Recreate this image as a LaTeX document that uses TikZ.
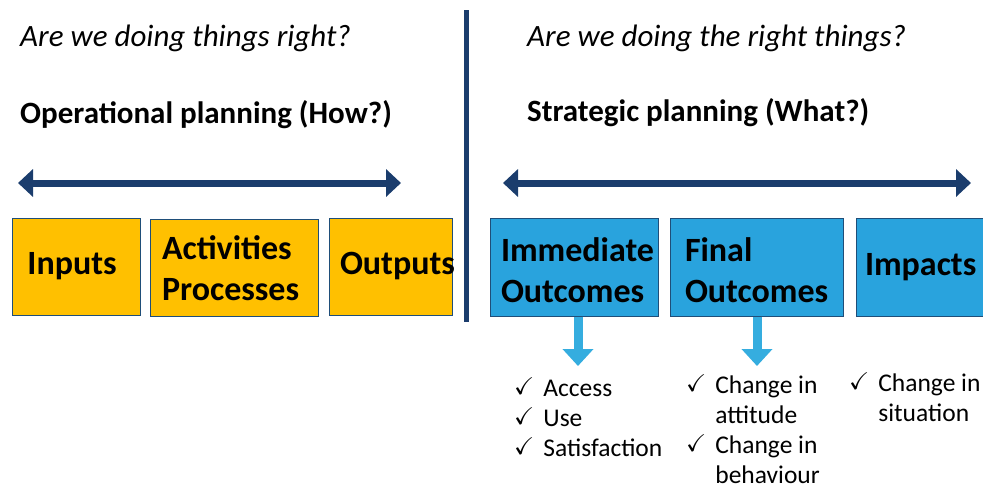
\documentclass[tikz,border=0pt]{standalone}
\usepackage{amssymb}
\usepackage{fontspec}
\setmainfont{Carlito}
\usetikzlibrary{arrows.meta}
\definecolor{navy}{HTML}{1B3D6D}
\definecolor{amber}{HTML}{FFC000}
\definecolor{skyb}{HTML}{29A3DD}
\definecolor{lightarr}{HTML}{35ADDF}
\definecolor{boxline}{HTML}{1F4E79}
\tikzset{
  obox/.style={draw=boxline, fill=amber, line width=1pt, inner sep=0pt, minimum height=97pt,
    align=left, font=\fontsize{34}{41}\selectfont\bfseries},
  bbox/.style={obox, fill=skyb, minimum height=98pt},
  span/.style={{Triangle[width=27pt,length=15pt]}-{Triangle[width=27pt,length=15pt]}, line width=7pt, navy},
  downarr/.style={-{Triangle[width=30pt,length=17pt]}, line width=9pt, lightarr},
  ask/.style={anchor=west, inner sep=0pt, font=\fontsize{31}{36}\selectfont\itshape},
  head/.style={anchor=west, inner sep=0pt, font=\fontsize{31}{36}\selectfont\bfseries},
  ticks/.style={anchor=north west, inner sep=0pt, font=\fontsize{25.5}{30}\selectfont}
}
\newcommand{\tk}{\raisebox{2pt}{\scalebox{0.95}{$\checkmark$}}}

\begin{document}
\begin{tikzpicture}[x=1pt,y=-1pt]
  \useasboundingbox (0,0) rectangle (983,499);

  % questions and headings
  \node[ask] (q1) at (20,38) {Are we doing things right?};
  \node[ask] (q2) at (527,38) {Are we doing the right things?};
  \node[head] (h1) at (20,115) {Operational planning (How?)};
  \node[head] (h2) at (527,113) {Strategic planning (What?)};

  % divider
  \coordinate (dtop) at (466,10);
  \coordinate (dbot) at (466,322);
  \draw[navy, line width=5pt] (dtop) -- (dbot);

  % span arrows
  \coordinate (l1) at (18,183);
  \coordinate (l2) at (401,183);
  \coordinate (r1) at (503,183);
  \coordinate (r2) at (971,183);
  \draw[span] (l1) -- (l2);
  \draw[span] (r1) -- (r2);

  % operational boxes
  \node[obox, minimum width=128pt, align=center] (inp) at (76,266.5) {\hspace*{-8pt}Inputs};
  \node[obox, minimum width=168pt, text width=144pt] (act) at (234,268) {Activities\\Processes};
  \node[obox, minimum width=123pt, text width=101pt] (out) at (390.5,266.5) {Outputs};

  % strategic boxes
  \node[bbox, minimum width=168pt, text width=146pt] (imm) at (574,267) {\rule{0pt}{31pt}Immediate\\Outcomes};
  \node[bbox, minimum width=173pt, text width=143pt] (fin) at (756.5,267) {\rule{0pt}{31pt}Final\\Outcomes};
  \node[bbox, minimum width=127pt, text width=109pt] (imp) at (919.5,267) {Impacts};

  % result lists
  \node[ticks] (lst1) at (514,375) {\begin{tabular}{@{}l@{\hspace{9pt}}l@{}}
    \tk & Access\\ \tk & Use\\ \tk & Satisfaction\end{tabular}};
  \node[ticks] (lst2) at (686,372) {\begin{tabular}{@{}l@{\hspace{9pt}}l@{}}
    \tk & Change in\\ & attitude\\ \tk & Change in\\ & behaviour\end{tabular}};
  \node[ticks] (lst3) at (849,370) {\begin{tabular}{@{}l@{\hspace{9pt}}l@{}}
    \tk & Change in\\ & situation\end{tabular}};

  % down arrows
  \coordinate (a1) at (578,366);
  \coordinate (a2) at (757,366);
  \draw[downarr] (imm.south -| a1) -- (a1);
  \draw[downarr] (fin.south -| a2) -- (a2);
\end{tikzpicture}
\end{document}
